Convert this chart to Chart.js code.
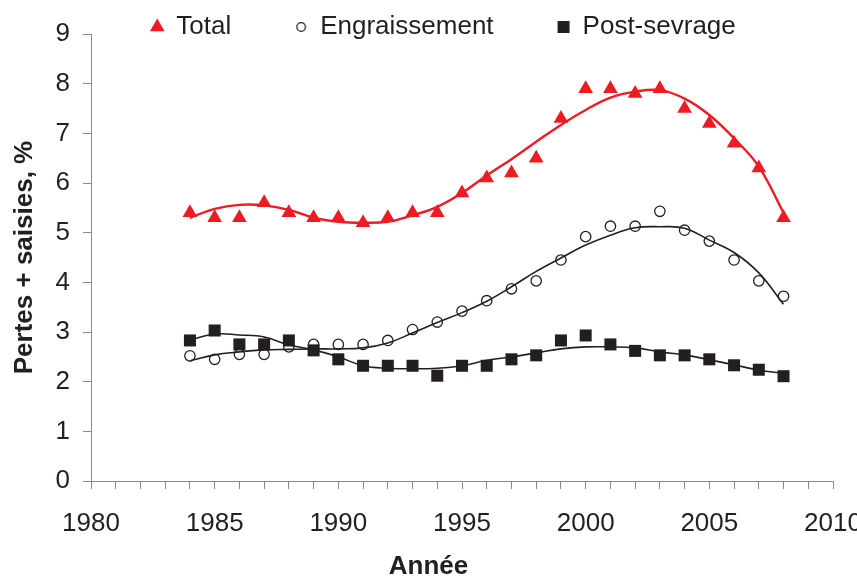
<!DOCTYPE html>
<html>
<head>
<meta charset="utf-8">
<script src="https://cdn.jsdelivr.net/npm/chart.js@4.4.1/dist/chart.umd.min.js"></script>
<style>
  html, body { margin: 0; padding: 0; background: #fff; }
  #wrap { width: 857px; height: 581px; }
</style>
</head>
<body>
<div id="wrap"><canvas id="lossChart"></canvas></div>
<script>
const years = [1984, 1985, 1986, 1987, 1988, 1989, 1990, 1991, 1992, 1993, 1994, 1995, 1996,
  1997, 1998, 1999, 2000, 2001, 2002, 2003, 2004, 2005, 2006, 2007, 2008];

// observed points
const totalPts = [5.4, 5.3, 5.3, 5.6, 5.4, 5.3, 5.3, 5.2, 5.3, 5.4, 5.4, 5.8, 6.1,
  6.2, 6.5, 7.3, 7.9, 7.9, 7.8, 7.9, 7.5, 7.2, 6.8, 6.3, 5.3];
const engrPts = [2.52, 2.45, 2.55, 2.55, 2.7, 2.75, 2.75, 2.75, 2.83, 3.05, 3.2, 3.42, 3.63,
  3.87, 4.03, 4.45, 4.92, 5.13, 5.13, 5.43, 5.05, 4.83, 4.45, 4.03, 3.72];
const postPts = [2.83, 3.03, 2.75, 2.75, 2.83, 2.63, 2.45, 2.32, 2.32, 2.32, 2.12, 2.32, 2.32,
  2.45, 2.53, 2.83, 2.93, 2.75, 2.62, 2.53, 2.53, 2.45, 2.33, 2.24, 2.11];

// smoothed trend curves
const totalFit = [5.3, 5.48, 5.56, 5.55, 5.46, 5.3, 5.22, 5.2, 5.22, 5.35, 5.52, 5.8, 6.15,
  6.48, 6.83, 7.17, 7.47, 7.72, 7.84, 7.87, 7.7, 7.37, 6.9, 6.33, 5.4];
const engrFit = [2.42, 2.54, 2.6, 2.64, 2.65, 2.66, 2.66, 2.68, 2.78, 2.98, 3.19, 3.39, 3.62,
  3.91, 4.22, 4.49, 4.75, 4.95, 5.1, 5.12, 5.09, 4.85, 4.6, 4.19, 3.56];
const postFit = [2.84, 2.96, 2.94, 2.9, 2.74, 2.64, 2.5, 2.32, 2.27, 2.26, 2.27, 2.32, 2.43,
  2.5, 2.58, 2.66, 2.7, 2.7, 2.68, 2.6, 2.54, 2.44, 2.34, 2.23, 2.17];

const xTicks = [1980, 1985, 1990, 1995, 2000, 2005, 2010];
const yTicks = [0, 1, 2, 3, 4, 5, 6, 7, 8, 9];

const RED = "#ED1C24";
const INK = "#231F20";
const AXIS = "#8a8a8a";
const FONT = "'Liberation Sans', Arial, sans-serif";
const LEGEND_PAD = 64;

const toXY = (vals) => vals.map((v, i) => ({ x: years[i], y: v }));

// small open circle for the legend
const legendCircle = document.createElement("canvas");
legendCircle.width = 12;
legendCircle.height = 12;
(function () {
  const c = legendCircle.getContext("2d");
  c.strokeStyle = INK;
  c.lineWidth = 1.3;
  c.beginPath();
  c.arc(6, 6, 4.3, 0, Math.PI * 2);
  c.stroke();
})();

// move the legend row so it sits over the top of the plot like the original
const legendShift = {
  id: "legendShift",
  afterLayout(chart) {
    const lg = chart.legend;
    lg.top = 27 - 13 - LEGEND_PAD;
    lg.bottom = 60;
    lg.left += 15;
    lg.right += 15;
  },
};

const ctx = document.getElementById("lossChart").getContext("2d");
new Chart(ctx, {
  type: "line",
  data: {
    datasets: [
      {
        label: "Total",
        data: toXY(totalPts),
        showLine: false,
        pointStyle: "triangle",
        pointRadius: 8.5,
        pointBackgroundColor: RED,
        pointBorderColor: RED,
        pointBorderWidth: 0,
      },
      {
        label: "Engraissement",
        data: toXY(engrPts),
        showLine: false,
        pointStyle: "circle",
        pointRadius: 5.2,
        pointBackgroundColor: "rgba(255,255,255,0)",
        pointBorderColor: INK,
        pointBorderWidth: 1.3,
      },
      {
        label: "Post-sevrage",
        data: toXY(postPts),
        showLine: false,
        pointStyle: "rect",
        pointRadius: 8.5,
        pointBackgroundColor: INK,
        pointBorderColor: INK,
        pointBorderWidth: 0,
      },
      {
        label: "fit-total",
        data: toXY(totalFit),
        borderColor: RED,
        borderWidth: 2.4,
        pointRadius: 0,
        tension: 0.4,
        fill: false,
      },
      {
        label: "fit-engr",
        data: toXY(engrFit),
        borderColor: INK,
        borderWidth: 1.6,
        pointRadius: 0,
        tension: 0.4,
        fill: false,
      },
      {
        label: "fit-post",
        data: toXY(postFit),
        borderColor: INK,
        borderWidth: 1.6,
        pointRadius: 0,
        tension: 0.4,
        fill: false,
      },
    ],
  },
  options: {
    responsive: true,
    maintainAspectRatio: false,
    animation: false,
    layout: { padding: 0 },
    plugins: {
      tooltip: { enabled: false },
      title: {
        display: true,
        position: "bottom",
        text: "Année",
        color: INK,
        font: { family: FONT, size: 26, weight: "bold", lineHeight: 1 },
        padding: { top: 0, bottom: 1 },
      },
      legend: {
        position: "top",
        maxHeight: 34,
        labels: {
          usePointStyle: true,
          boxWidth: 12,
          boxHeight: 12,
          padding: LEGEND_PAD,
          color: INK,
          font: { family: FONT, size: 26 },
          filter: (item) => item.datasetIndex < 3,
          generateLabels: (chart) => {
            const items = Chart.defaults.plugins.legend.labels.generateLabels(chart);
            items.forEach((it) => {
              if (it.datasetIndex === 1) it.pointStyle = legendCircle;
            });
            return items;
          },
        },
      },
    },
    scales: {
      x: {
        type: "linear",
        min: 1980,
        max: 2010,
        afterFit: (scale) => {
          scale.height = 73;
          scale.paddingRight = 24;
        },
        border: { display: true, color: AXIS, width: 1 },
        grid: { drawOnChartArea: false, drawTicks: true, tickLength: 8, color: AXIS },
        ticks: {
          stepSize: 1,
          autoSkip: false,
          maxRotation: 0,
          padding: 19,
          color: INK,
          font: { family: FONT, size: 26 },
          callback: (v) => (xTicks.includes(v) ? String(v) : ""),
        },
      },
      y: {
        min: 0,
        max: 9,
        afterFit: (scale) => {
          scale.width = 91;
        },
        border: { display: true, color: AXIS, width: 1 },
        grid: { drawOnChartArea: false, drawTicks: true, tickLength: 8, color: AXIS },
        ticks: {
          stepSize: 1,
          padding: 13,
          color: INK,
          font: { family: FONT, size: 26 },
          callback: (v) => (yTicks.includes(v) ? String(v) : ""),
        },
        title: {
          display: true,
          text: "Pertes + saisies, %",
          color: INK,
          font: { family: FONT, size: 26, weight: "bold" },
          padding: { top: 9, bottom: 0 },
        },
      },
    },
  },
  plugins: [legendShift],
});
</script>
</body>
</html>
